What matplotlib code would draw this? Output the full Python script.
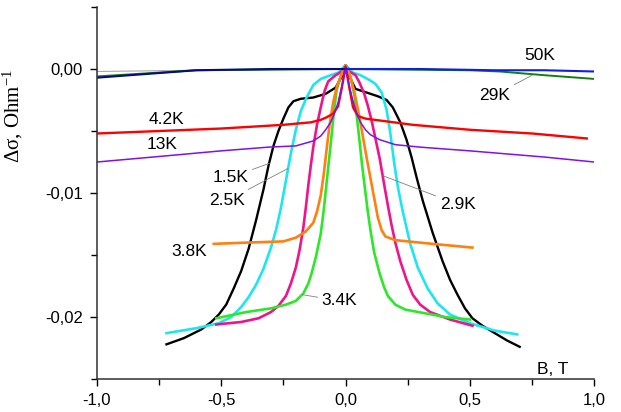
import numpy as np
import matplotlib
matplotlib.use("Agg")
import matplotlib.pyplot as plt
from matplotlib.ticker import MultipleLocator, FuncFormatter

plt.rcParams['font.family'] = ['Liberation Sans', 'DejaVu Sans']
plt.rcParams['mathtext.fontset'] = 'custom'
plt.rcParams['mathtext.rm'] = 'Liberation Serif'
plt.rcParams['mathtext.it'] = 'Liberation Serif:italic'

# ---------------- data ----------------
# 1.5K (black)
b_15 = [-0.72, -0.65, -0.58, -0.54, -0.51, -0.48, -0.45, -0.42, -0.39, -0.36,
        -0.33, -0.31, -0.29, -0.27, -0.25, -0.23, -0.21, -0.18, -0.13, -0.08,
        -0.04, -0.015, 0.0, 0.015, 0.04, 0.085, 0.13, 0.165, 0.19, 0.22,
        0.245, 0.265, 0.285, 0.31, 0.35, 0.39, 0.42, 0.45, 0.48, 0.51,
        0.55, 0.6, 0.65, 0.7]
d_15 = [-0.0222, -0.0217, -0.0210, -0.0204, -0.0198, -0.0190, -0.0177, -0.0163, -0.0145, -0.0122,
        -0.0097, -0.0078, -0.0062, -0.0050, -0.0040, -0.0031, -0.0026, -0.0024, -0.0023, -0.0020,
        -0.0015, -0.0006, 0.0003, -0.0006, -0.0016, -0.0019, -0.0022, -0.0025, -0.0031, -0.0043,
        -0.0057, -0.0071, -0.0087, -0.0106, -0.0132, -0.0155, -0.0170, -0.0182, -0.0193, -0.0201,
        -0.0207, -0.0213, -0.0219, -0.0224]

# 2.5K (cyan)
b_25 = [-0.72, -0.6, -0.51, -0.46, -0.42, -0.39, -0.36, -0.33, -0.30, -0.28,
        -0.26, -0.24, -0.22, -0.2, -0.18, -0.157, -0.13, -0.1, -0.06, -0.03,
        0.0, 0.03, 0.06, 0.097, 0.12, 0.145, 0.165, 0.18, 0.195, 0.21,
        0.23, 0.26, 0.29, 0.33, 0.37, 0.42, 0.5, 0.6, 0.69]
d_25 = [-0.0213, -0.0209, -0.0205, -0.0200, -0.0192, -0.0184, -0.0174, -0.0161, -0.0144, -0.0130,
        -0.0112, -0.0090, -0.0068, -0.0049, -0.0034, -0.0023, -0.0013, -0.0008, -0.0005, -0.0003,
        0.0003, -0.0003, -0.0005, -0.0009, -0.0012, -0.0019, -0.0033, -0.0052, -0.0075, -0.0095,
        -0.0115, -0.0141, -0.0160, -0.0177, -0.0189, -0.0198, -0.0205, -0.0211, -0.0214]

# 2.9K (magenta)
b_29 = [-0.52, -0.42, -0.35, -0.30, -0.27, -0.24, -0.22, -0.2, -0.185, -0.17,
        -0.16, -0.15, -0.14, -0.13, -0.115, -0.1, -0.085, -0.07, -0.04, -0.015,
        0.0, 0.015, 0.04, 0.056, 0.075, 0.09, 0.105, 0.12, 0.137, 0.155,
        0.17, 0.185, 0.2, 0.22, 0.245, 0.27, 0.3, 0.34, 0.42, 0.51]
d_29 = [-0.0206, -0.0204, -0.0201, -0.0196, -0.0191, -0.0183, -0.0173, -0.0160, -0.0146, -0.0128,
        -0.0112, -0.0094, -0.0078, -0.0063, -0.0045, -0.0031, -0.0018, -0.0010, -0.0005, -0.0002,
        0.0003, -0.0002, -0.0005, -0.0011, -0.0020, -0.0030, -0.0042, -0.0056, -0.0072, -0.0093,
        -0.0110, -0.0126, -0.0140, -0.0155, -0.0170, -0.0182, -0.0190, -0.0196, -0.0202, -0.0207]

# 3.4K (green)
b_34 = [-0.52, -0.4, -0.3, -0.24, -0.2, -0.17, -0.15, -0.137, -0.12, -0.1,
        -0.088, -0.077, -0.066, -0.056, -0.046, -0.036, -0.02, 0.0, 0.02, 0.036,
        0.046, 0.056, 0.066, 0.077, 0.088, 0.1, 0.115, 0.137, 0.155, 0.17,
        0.2, 0.24, 0.4, 0.5]
d_34 = [-0.0201, -0.0196, -0.0193, -0.0190, -0.0187, -0.0181, -0.0173, -0.0165, -0.0152, -0.0133,
        -0.0114, -0.0093, -0.0072, -0.0053, -0.0033, -0.0017, -0.0006, 0.0003, -0.0006, -0.0022,
        -0.0040, -0.0058, -0.0077, -0.0095, -0.0113, -0.0130, -0.0148, -0.0165, -0.0176, -0.0183,
        -0.0190, -0.0194, -0.0200, -0.0202]

# 3.8K (orange)
b_38 = [-0.53, -0.4, -0.25, -0.2, -0.16, -0.13, -0.115, -0.1, -0.088, -0.077,
        -0.065, -0.05, -0.035, -0.02, 0.0, 0.02, 0.035, 0.056, 0.07, 0.085,
        0.1, 0.115, 0.13, 0.145, 0.16, 0.2, 0.35, 0.51]
d_38 = [-0.0141, -0.0140, -0.0139, -0.0136, -0.0131, -0.0124, -0.0115, -0.0102, -0.0085, -0.0066,
        -0.0046, -0.0027, -0.0014, -0.0006, 0.0003, -0.0007, -0.0018, -0.0039, -0.0055, -0.0072,
        -0.0088, -0.0104, -0.0120, -0.0130, -0.0135, -0.0138, -0.0141, -0.0144]

# 4.2K (red)
b_42 = [-1.0, -0.75, -0.5, -0.25, -0.14, -0.1, -0.077, -0.05, -0.03, -0.015,
        0.0, 0.015, 0.03, 0.05, 0.08, 0.27, 0.5, 0.75, 0.97]
d_42 = [-0.0052, -0.0050, -0.0048, -0.0045, -0.0043, -0.0041, -0.0039, -0.0036, -0.0030, -0.0015,
        0.0002, -0.0015, -0.0031, -0.0038, -0.0040, -0.0045, -0.0049, -0.0052, -0.0056]

# 13K (purple)
b_13 = [-1.0, -0.72, -0.5, -0.31, -0.2, -0.13, -0.1, -0.08, -0.06, -0.045,
        -0.03, -0.015, 0.0, 0.015, 0.03, 0.045, 0.06, 0.08, 0.1, 0.137,
        0.2, 0.3, 0.5, 0.62, 0.8, 1.0]
d_13 = [-0.0075, -0.0070, -0.0066, -0.0063, -0.0062, -0.0058, -0.0054, -0.0049, -0.0043, -0.0036,
        -0.0027, -0.0014, 0.0002, -0.0014, -0.0026, -0.0036, -0.0043, -0.0049, -0.0053, -0.0057,
        -0.0061, -0.0063, -0.0066, -0.0068, -0.0071, -0.0075]

# 29K (dark green)
b_29k = [-1.0, -0.6, 0.0, 0.5, 0.62, 0.8, 1.0]
d_29k = [-0.0006, -0.0001, 0.0, -0.0001, -0.0002, -0.0005, -0.0008]

# 50K (navy on the left, blue on the right)
b_50 = [-1.0, -0.8, -0.6, -0.3, 0.0, 0.3, 0.6, 0.8, 1.0]
d_50 = [-0.0007, -0.0004, -0.0001, 0.0, 0.0, 0.0, -0.0001, -0.0001, -0.0002]

# thin grey reference line
b_ref = [-1.0, -0.6, 0.0]
d_ref = [-0.0002, -0.0001, 0.0]

fig = plt.figure(figsize=(6.21, 4.12), dpi=100)
ax = fig.add_axes([0.156, 0.08, 0.801, 0.903])

ax.plot(b_ref, d_ref, color='#a8a8a8', lw=0.8)
ax.plot(b_15, d_15, color='black', lw=1.7)
ax.plot(b_25, d_25, color='#1ee6f0', lw=1.9)
ax.plot(b_29, d_29, color='#f0148c', lw=1.9)
ax.plot(b_34, d_34, color='#2ee62a', lw=1.9)
ax.plot(b_38, d_38, color='#ff8010', lw=1.9)
ax.plot(b_42, d_42, color='#ff0000', lw=1.7)
ax.plot(b_13, d_13, color='#7f10f0', lw=1.1)
ax.plot(b_29k, d_29k, color='#128012', lw=1.4)

b50 = np.array(b_50)
d50 = np.array(d_50)
ax.plot(b50[b50 <= 0], d50[b50 <= 0], color='#0a0a80', lw=1.5)
ax.plot(b50[b50 >= 0], d50[b50 >= 0], color='#1020e0', lw=1.5)

# labels
lead = dict(arrowstyle='-', color='#808080', lw=0.6, shrinkA=1, shrinkB=0)
fs = 12.5
ax.text(0.78, 0.00105, '50K', fontsize=fs, ha='center', va='center')
ax.annotate('29K', xy=(0.75, -0.0005), xytext=(0.60, -0.0021), fontsize=fs,
            ha='center', va='center', arrowprops=lead)
ax.text(-0.72, -0.0041, '4.2K', fontsize=fs, ha='center', va='center')
ax.text(-0.736, -0.0061, '13K', fontsize=fs, ha='center', va='center')
ax.annotate('1.5K', xy=(-0.306, -0.0076), xytext=(-0.463, -0.00875), fontsize=fs,
            ha='center', va='center', arrowprops=lead)
ax.annotate('2.5K', xy=(-0.23, -0.0080), xytext=(-0.475, -0.0106), fontsize=fs,
            ha='center', va='center', arrowprops=lead)
ax.annotate('2.9K', xy=(0.149, -0.0086), xytext=(0.45, -0.0109), fontsize=fs,
            ha='center', va='center', arrowprops=lead)
ax.annotate('3.4K', xy=(-0.173, -0.0182), xytext=(-0.024, -0.0187), fontsize=fs,
            ha='center', va='center', arrowprops=lead)
ax.text(-0.628, -0.0147, '3.8K', fontsize=fs, ha='center', va='center')
ax.text(0.833, -0.0242, 'B, T', fontsize=fs, ha='center', va='center')

ax.set_xlim(-1.0, 1.0)
ax.set_ylim(-0.025, 0.005)

ax.xaxis.set_major_locator(MultipleLocator(0.5))
ax.xaxis.set_minor_locator(MultipleLocator(0.25))
ax.yaxis.set_major_locator(MultipleLocator(0.01))
ax.yaxis.set_minor_locator(MultipleLocator(0.005))
ax.xaxis.set_major_formatter(FuncFormatter(lambda v, p: f'{v:.1f}'.replace('.', ',')))
ax.yaxis.set_major_formatter(FuncFormatter(lambda v, p: f'{v:.2f}'.replace('.', ',')))

ax.tick_params(which='major', direction='out', length=5, width=1, labelsize=12, pad=5)
ax.tick_params(which='minor', direction='out', length=4, width=1)

for s in ['top', 'right']:
    ax.spines[s].set_visible(False)
for s in ['left', 'bottom']:
    ax.spines[s].set_linewidth(1.1)
    ax.spines[s].set_color('#303030')

ax.set_ylabel('Δσ, Ohm$^{\\mathrm{-1}}$', fontsize=15, family='Liberation Serif')
ax.yaxis.set_label_coords(-0.145, 0.707)

fig.savefig('out.png', dpi=100)
